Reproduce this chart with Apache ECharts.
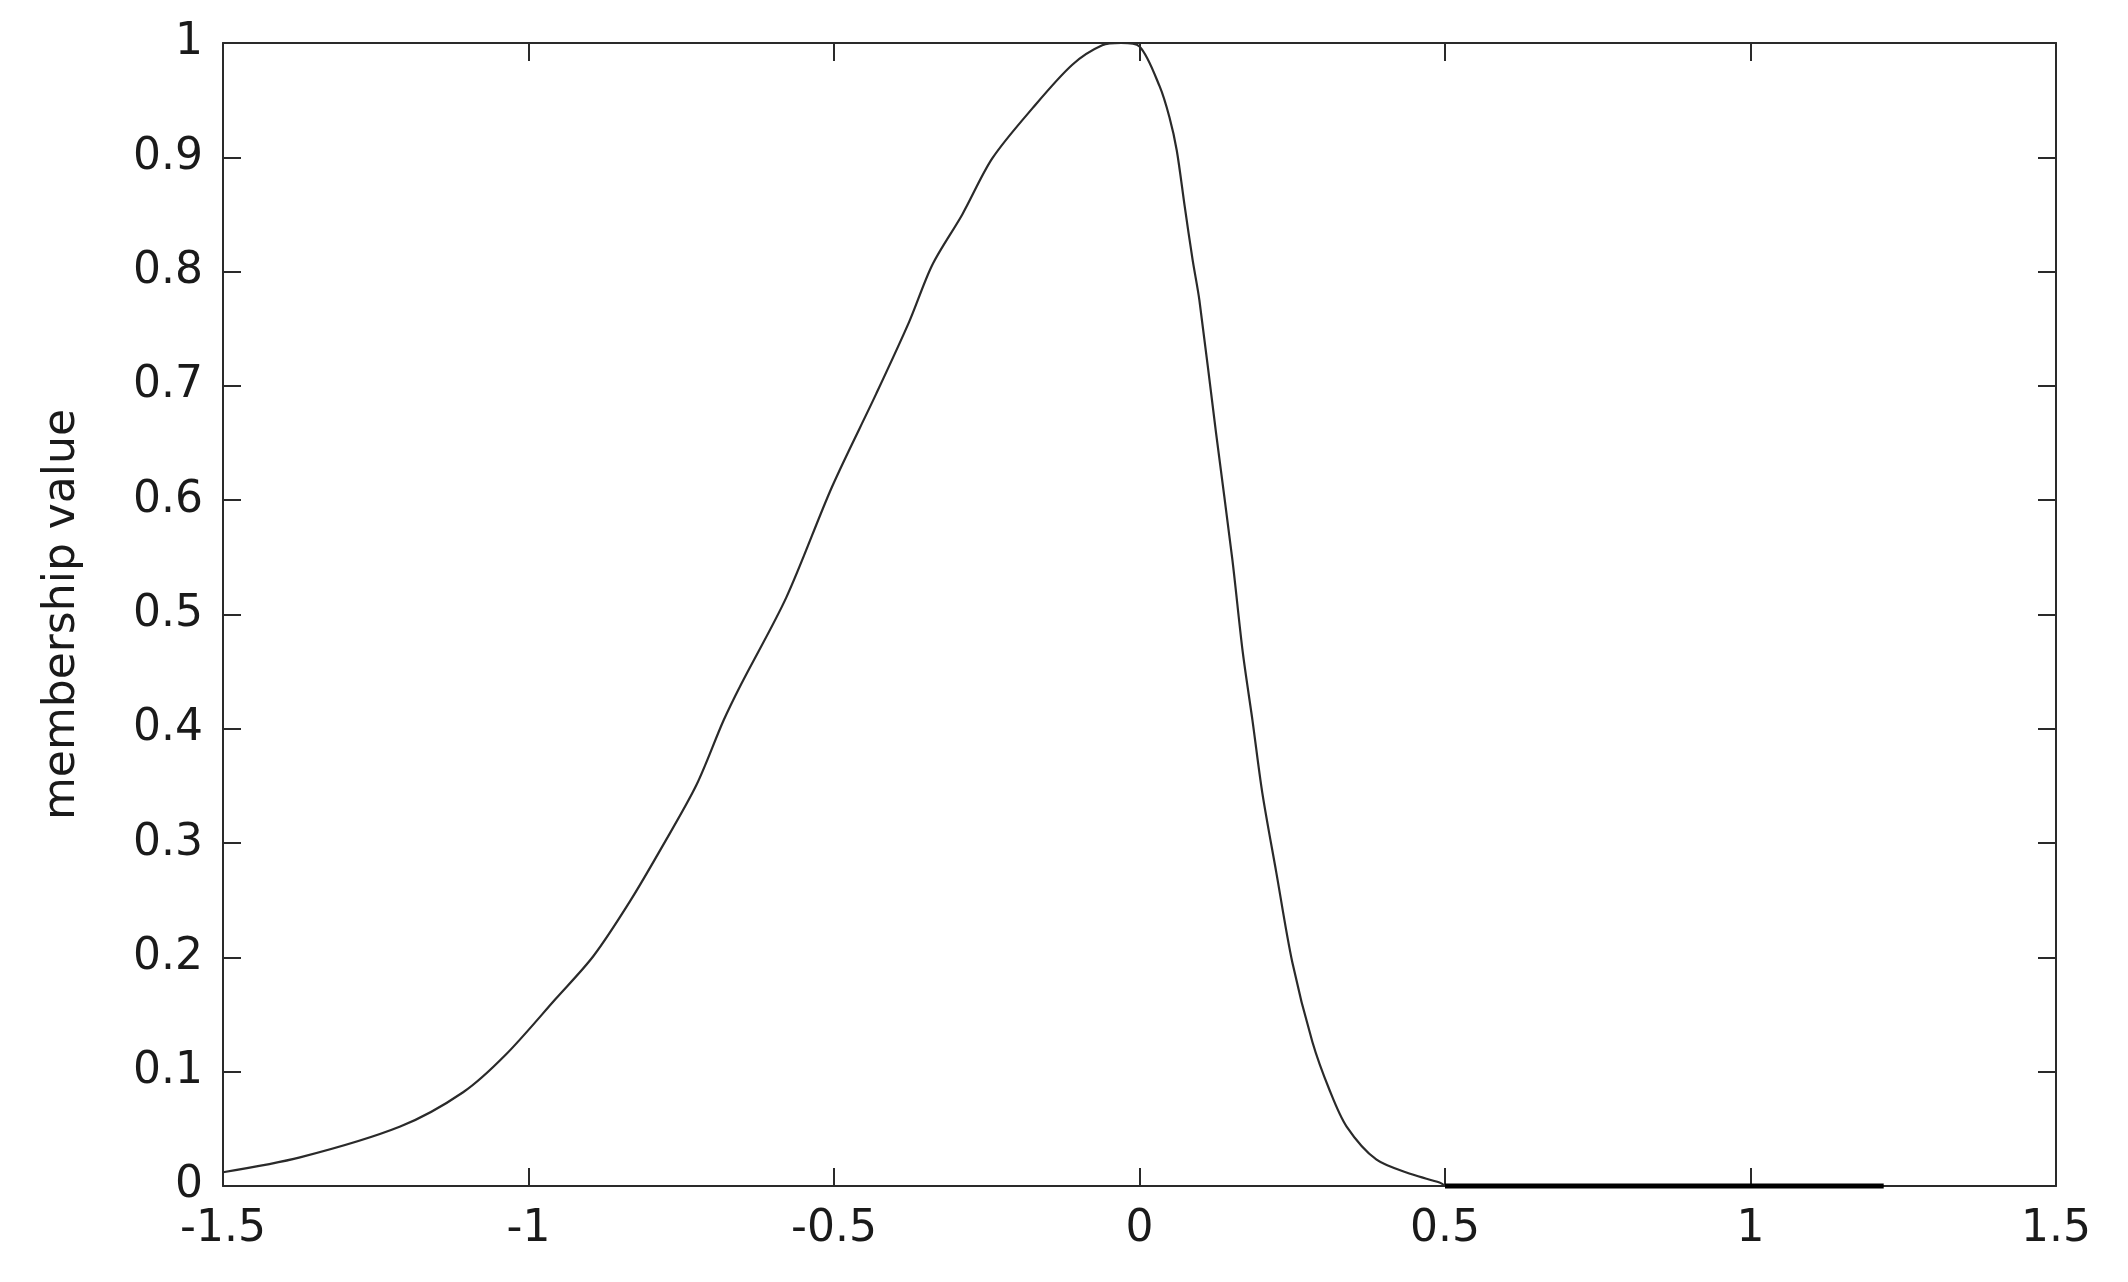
<!DOCTYPE html>
<html>
<head>
<meta charset="utf-8">
<title>membership value</title>
<script src="https://cdn.jsdelivr.net/npm/echarts@6/dist/echarts.min.js"></script>
<style>
    html, body { margin: 0; padding: 0; background: #fff; }
    #chartMain { width: 2128px; height: 1282px; }
</style>
</head>
<body>
<div id="chartMain"></div>
<script>
// curve
var xValues = [-1.5, -1.374, -1.21, -1.107, -1.037, -0.955, -0.894, -0.834, -0.78, -0.725,
    -0.681, -0.652, -0.578, -0.503, -0.431, -0.377, -0.339, -0.29, -0.241, -0.175,
    -0.11, -0.061, -0.03, 0.0, 0.033, 0.049, 0.061, 0.074, 0.087, 0.098,
    0.125, 0.152, 0.169, 0.185, 0.201, 0.224, 0.25, 0.283, 0.311, 0.339,
    0.388, 0.447, 0.491, 0.5];
var yValues = [0.012, 0.025, 0.052, 0.082, 0.115, 0.164, 0.201, 0.249, 0.298, 0.351,
    0.407, 0.439, 0.515, 0.612, 0.693, 0.756, 0.806, 0.85, 0.899, 0.943,
    0.981, 0.998, 1.0, 0.997, 0.962, 0.935, 0.906, 0.857, 0.81, 0.775,
    0.66, 0.548, 0.467, 0.407, 0.344, 0.274, 0.196, 0.126, 0.084, 0.052,
    0.023, 0.010, 0.003, 0.0];
// flat part drawn heavier along the bottom
var tailX = [0.5, 1.218];
var tailY = [0, 0];

var xMin = -1.5, xMax = 1.5, xStep = 0.5;
var yMin = 0, yMax = 1, yStep = 0.1;
var yName = 'membership value';

function pairs(xs, ys) {
    var out = [];
    for (var i = 0; i < xs.length; i++) {
        out.push([xs[i], ys[i]]);
    }
    return out;
}

function drawChart() {
    var myChart = echarts.init(document.getElementById('chartMain'));
    var lineColor = '#2a2a2a';
    var labelFont = {
        color: '#1a1a1a',
        fontFamily: 'DejaVu Sans',
        fontSize: 44
    };
    var frameLine = { show: true, onZero: false, lineStyle: { color: lineColor, width: 2 } };
    var innerTick = { show: true, inside: true, length: 18, lineStyle: { color: lineColor, width: 2 } };

    myChart.setOption({
        animation: false,
        backgroundColor: '#fff',
        grid: { left: 223, right: 72, top: 43, bottom: 96 },
        xAxis: [
            {
                type: 'value', min: xMin, max: xMax, interval: xStep,
                position: 'bottom',
                axisLine: frameLine, axisTick: innerTick, splitLine: { show: false },
                axisLabel: Object.assign({ margin: 22, showMinLabel: true, showMaxLabel: true }, labelFont)
            },
            {
                type: 'value', min: xMin, max: xMax, interval: xStep,
                position: 'top',
                axisLine: frameLine, axisTick: innerTick, splitLine: { show: false },
                axisLabel: { show: false }
            }
        ],
        yAxis: [
            {
                type: 'value', min: yMin, max: yMax, interval: yStep,
                position: 'left',
                name: yName, nameLocation: 'middle', nameGap: 138, nameRotate: 90,
                nameTextStyle: { color: '#1a1a1a', fontFamily: 'DejaVu Sans', fontSize: 44 },
                axisLine: frameLine, axisTick: innerTick, splitLine: { show: false },
                axisLabel: Object.assign({ margin: 20, showMinLabel: true, showMaxLabel: true }, labelFont)
            },
            {
                type: 'value', min: yMin, max: yMax, interval: yStep,
                position: 'right',
                axisLine: frameLine, axisTick: innerTick, splitLine: { show: false },
                axisLabel: { show: false }
            }
        ],
        series: [
            {
                name: 'membership',
                type: 'line',
                xAxisIndex: 0, yAxisIndex: 0,
                showSymbol: false,
                smooth: 0.3,
                clip: false,
                lineStyle: { color: lineColor, width: 2.2 },
                data: pairs(xValues, yValues)
            },
            {
                name: 'tail',
                type: 'line',
                xAxisIndex: 0, yAxisIndex: 0,
                showSymbol: false,
                clip: false,
                lineStyle: { color: '#000', width: 5 },
                data: pairs(tailX, tailY)
            }
        ]
    });
}

drawChart();
</script>
</body>
</html>
